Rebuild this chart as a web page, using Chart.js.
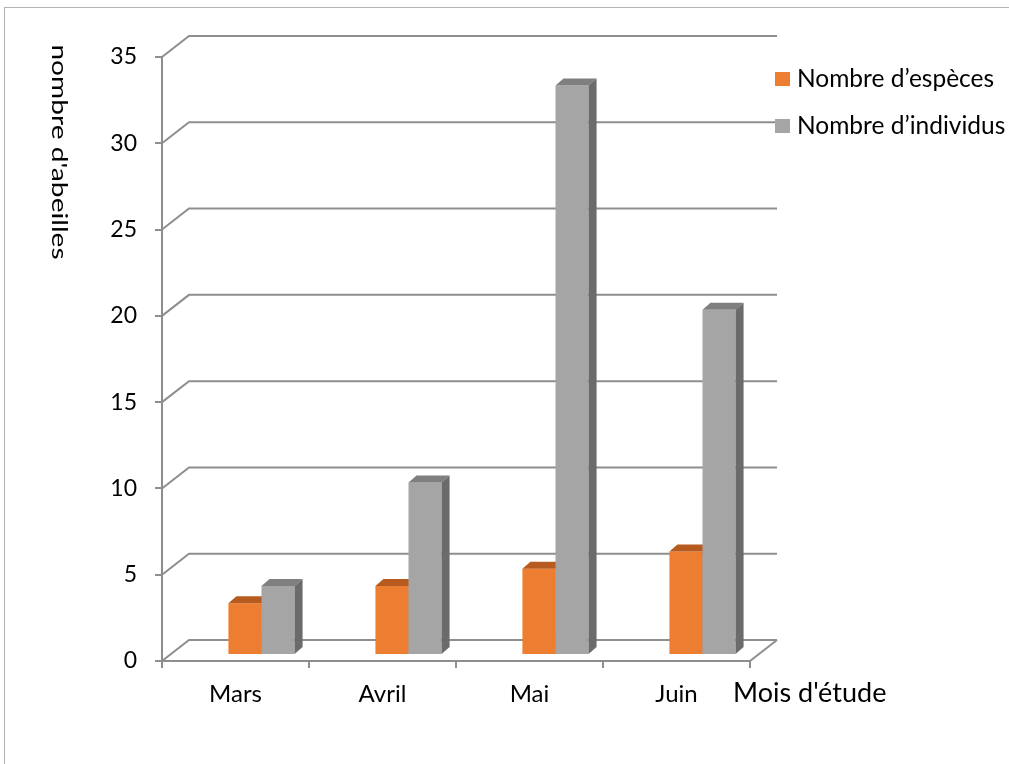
<!DOCTYPE html>
<html><head><meta charset="utf-8">
<script src="https://cdn.jsdelivr.net/npm/chart.js@4/dist/chart.umd.min.js"></script>
<style>html,body{margin:0;padding:0;background:#fff;overflow:hidden}canvas{display:block}</style>
</head><body>
<canvas id="c" width="1009" height="764"></canvas>
<script>
const categories = ['Mars', 'Avril', 'Mai', 'Juin'];
const especes = [3, 4, 5, 6];
const individus = [4, 10, 33, 20];
const seriesLabels = ['Nombre d’espèces', 'Nombre d’individus'];
const yTicks = [0, 5, 10, 15, 20, 25, 30, 35];
const yTitle = "nombre d'abeilles";
const xTitle = "Mois d'étude";

const FRONT = ['#ED7D31', '#A5A5A5'];
const TOP = ['#B65A1F', '#7F7F7F'];
const SIDE = ['#9E4E1A', '#6B6B6B'];
const GRID = '#8E8E8E';
const WALL = {dx: 27, dy: -21};
const BAR = {dx: 26, dy: -6, depthX: 8, depthY: -7};
const FONT = 'Lato';

const threeD = {
  id: 'threeD',
  beforeDraw(chart) {
    const ctx = chart.ctx;
    ctx.save();
    ctx.fillStyle = '#fff';
    ctx.fillRect(0, 0, chart.width, chart.height);
    ctx.strokeStyle = '#B3B3B3';
    ctx.lineWidth = 1;
    ctx.strokeRect(4.5, 7.5, chart.width + 10, chart.height + 10);
    ctx.restore();
  },
  beforeDatasetsDraw(chart) {
    const {ctx, chartArea: a, scales: {x, y}} = chart;
    ctx.save();
    ctx.strokeStyle = GRID;
    ctx.lineWidth = 2;
    yTicks.forEach(v => {
      const py = y.getPixelForValue(v);
      ctx.beginPath();
      ctx.moveTo(a.left, py);
      ctx.lineTo(a.left + WALL.dx, py + WALL.dy);
      ctx.lineTo(a.right + WALL.dx, py + WALL.dy);
      ctx.stroke();
    });
    const p0 = y.getPixelForValue(0);
    ctx.beginPath();
    ctx.moveTo(a.right, p0);
    ctx.lineTo(a.right + WALL.dx, p0 + WALL.dy);
    ctx.stroke();

    ctx.translate(BAR.dx, BAR.dy);
    chart.data.datasets.forEach((ds, i) => {
      const meta = chart.getDatasetMeta(i);
      meta.data.forEach(el => {
        const p = el.getProps(['x', 'y', 'base', 'width'], true);
        const l = p.x - p.width / 2, r = p.x + p.width / 2;
        const t = p.y, b = p.base;
        ctx.fillStyle = FRONT[i];
        ctx.fillRect(l, t, r - l, b - t);
        ctx.fillStyle = TOP[i];
        ctx.beginPath();
        ctx.moveTo(l, t); ctx.lineTo(r, t);
        ctx.lineTo(r + BAR.depthX, t + BAR.depthY);
        ctx.lineTo(l + BAR.depthX, t + BAR.depthY);
        ctx.closePath(); ctx.fill();
        ctx.fillStyle = SIDE[i];
        ctx.beginPath();
        ctx.moveTo(r, t); ctx.lineTo(r + BAR.depthX, t + BAR.depthY);
        ctx.lineTo(r + BAR.depthX, b + BAR.depthY);
        ctx.lineTo(r, b);
        ctx.closePath(); ctx.fill();
      });
    });
    ctx.restore();
    return false;
  },
  afterDraw(chart) {
    const ctx = chart.ctx;
    ctx.save();
    ctx.fillStyle = '#000';
    // y title, rotated clockwise
    ctx.font = `22px ${FONT}`;
    ctx.save();
    ctx.translate(52, 152);
    ctx.rotate(Math.PI / 2);
    ctx.scale(1.28, 1);
    ctx.textAlign = 'center';
    ctx.textBaseline = 'alphabetic';
    ctx.fillText(yTitle, 0, 0);
    ctx.restore();
    // x title
    ctx.font = `27px ${FONT}`;
    ctx.textAlign = 'left';
    ctx.textBaseline = 'alphabetic';
    ctx.fillText(xTitle, 733, 702);
    // legend
    ctx.font = `24.5px ${FONT}`;
    ctx.textBaseline = 'middle';
    const ly = [79, 126];
    chart.data.datasets.forEach((ds, i) => {
      ctx.fillStyle = FRONT[i];
      ctx.fillRect(775, ly[i] - 7, 15, 14);
      ctx.fillStyle = '#000';
      ctx.fillText(ds.label, 797, ly[i]);
    });
    ctx.restore();
  }
};

new Chart(document.getElementById('c'), {
  type: 'bar',
  data: {
    labels: categories,
    datasets: [
      {label: seriesLabels[0], data: especes, backgroundColor: FRONT[0]},
      {label: seriesLabels[1], data: individus, backgroundColor: FRONT[1]}
    ]
  },
  options: {
    responsive: false,
    animation: false,
    devicePixelRatio: 1,
    categoryPercentage: 0.45,
    barPercentage: 1,
    layout: {padding: {top: 57, left: 0, right: 259, bottom: 0}},
    plugins: {legend: {display: false}, tooltip: {enabled: false}},
    scales: {
      x: {
        grid: {offset: true, drawOnChartArea: false, tickLength: 7, color: GRID, lineWidth: 2},
        border: {display: true, color: GRID, width: 2},
        ticks: {color: '#000', font: {family: FONT, size: 24}, padding: 12},
        afterFit(s) { s.height = 103; }
      },
      y: {
        min: 0, max: 35,
        afterBuildTicks(s) { s.ticks = yTicks.map(v => ({value: v})); },
        grid: {drawOnChartArea: false, tickLength: 7, color: GRID, lineWidth: 2},
        border: {display: true, color: GRID, width: 2},
        ticks: {color: '#000', font: {family: FONT, size: 23}, padding: 18},
        afterFit(s) { s.width = 162; }
      }
    }
  },
  plugins: [threeD]
});
</script>
</body></html>
